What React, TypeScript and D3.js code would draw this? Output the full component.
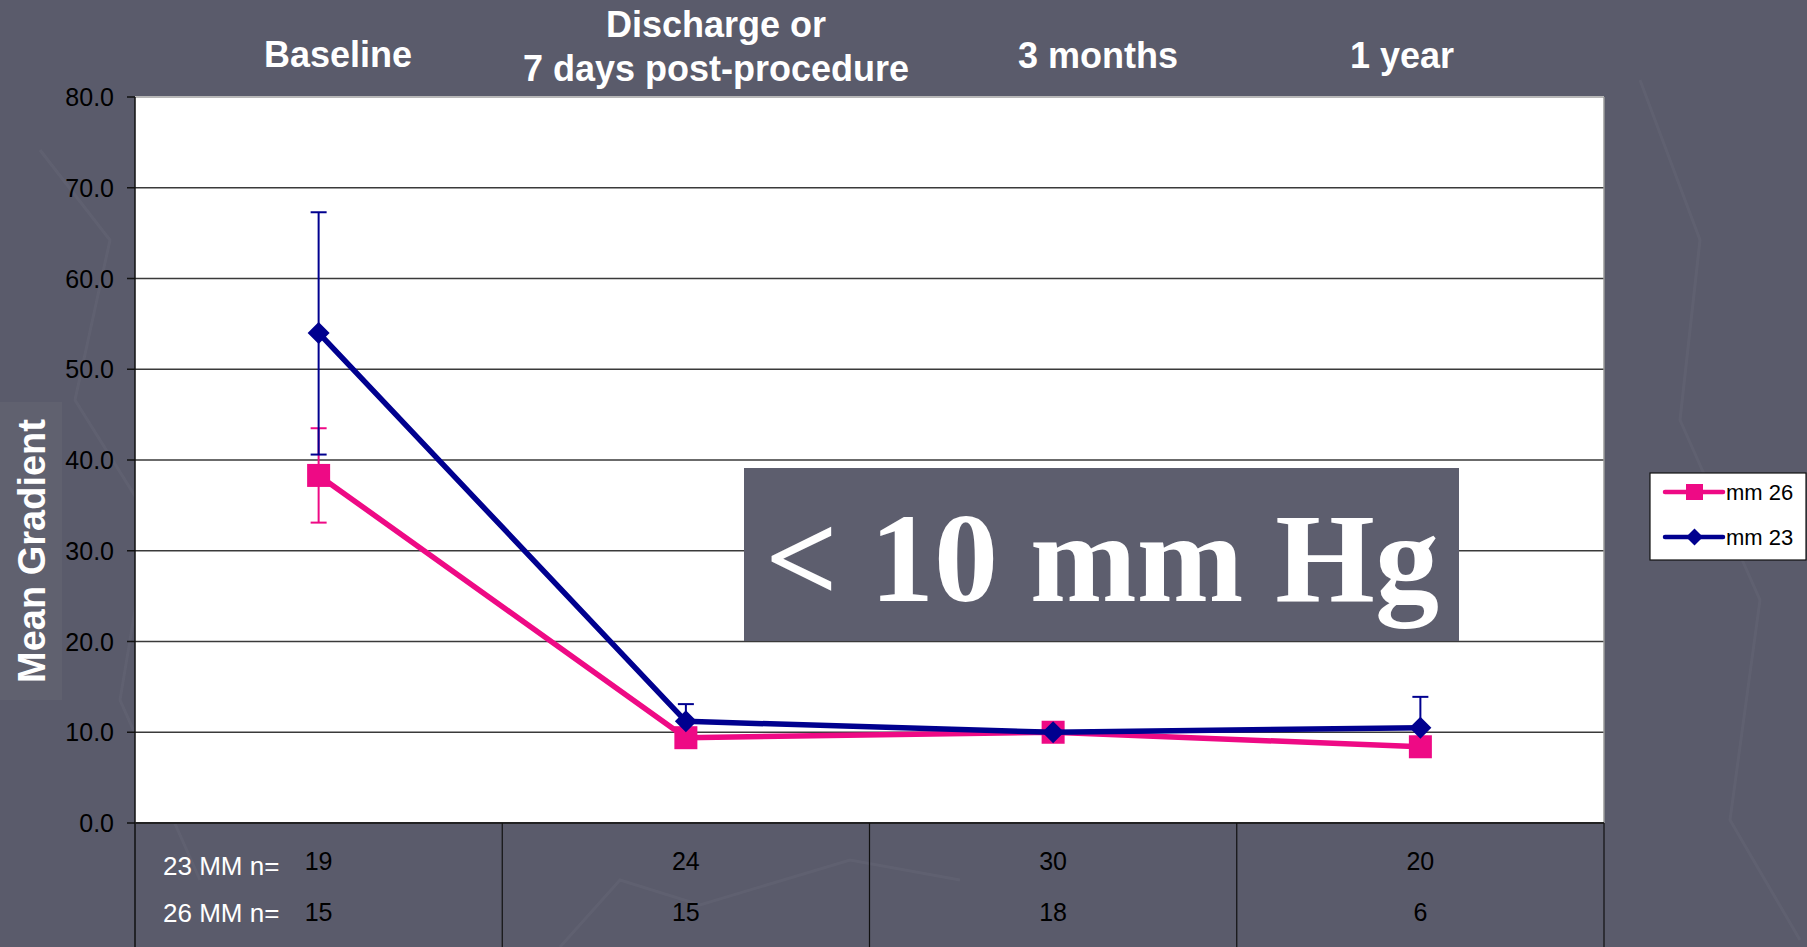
import React from "react";
import * as d3 from "d3";

// ---- data ----
const categories = ["Baseline", "Discharge", "3 months", "1 year"];
const titleLines = [["Baseline"], ["Discharge or", "7 days post-procedure"], ["3 months"], ["1 year"]];
const mm26 = [38.3, 9.4, 10.0, 8.4];
const mm23 = [54.0, 11.2, 10.0, 10.5];
const mm26High = [43.5, null, null, null];
const mm26Low = [33.1, null, null, null];
const mm23High = [67.3, 13.1, null, 13.9];
const mm23Low = [40.6, null, null, null];
const n23 = [19, 24, 30, 20];
const n26 = [15, 15, 18, 6];
const yTicks = [0, 10, 20, 30, 40, 50, 60, 70, 80];

// ---- layout ----
const W = 1807, H = 947;
const PL = 135, PR = 1604, PT = 97, PB = 823;
const BG = "#5A5B6B";
const PINK = "#EE0A85";
const BLUE = "#00008F";
const SANS = "'Liberation Sans', Arial, Helvetica, sans-serif";
const titleX = [338, 716, 1098, 1402];
const titleBaselines = [[67], [37, 81], [68], [68]];

export default function App() {
  const x = d3.scaleBand<string>().domain(categories).range([PL, PR]).padding(0);
  const cx = (i: number) => (x(categories[i]) as number) + x.bandwidth() / 2;
  const y = d3.scaleLinear().domain([0, 80]).range([PB, PT]);
  const line = d3.line<number>().x((_, i) => cx(i)).y((d) => y(d));

  const errBars = (hi: (number | null)[], lo: (number | null)[], vals: number[], color: string) =>
    vals.map((v, i) => {
      const top = hi[i] ?? v;
      const bot = lo[i] ?? v;
      if (top === v && bot === v) return null;
      return (
        <g key={i} stroke={color} strokeWidth={2}>
          <line x1={cx(i)} x2={cx(i)} y1={y(top)} y2={y(bot)} />
          {hi[i] != null && <line x1={cx(i) - 8} x2={cx(i) + 8} y1={y(top)} y2={y(top)} />}
          {lo[i] != null && <line x1={cx(i) - 8} x2={cx(i) + 8} y1={y(bot)} y2={y(bot)} />}
        </g>
      );
    });

  const diamond = (px: number, py: number, r: number) =>
    `M${px},${py - r}L${px + r},${py}L${px},${py + r}L${px - r},${py}Z`;

  return (
    <svg width={W} height={H} style={{ position: "absolute", left: 0, top: 0, background: BG }}>
      <rect x={0} y={0} width={W} height={H} fill={BG} />
      {/* faint background decoration */}
      <g stroke="#ffffff" strokeOpacity={0.035} strokeWidth={3} fill="none">
        <polyline points="40,150 110,240 75,400 150,520 120,700 200,880" />
        <polyline points="1640,80 1700,240 1680,420 1760,600 1730,820 1800,940" />
        <polyline points="560,947 620,880 700,905 850,860 960,880" />
      </g>
      {/* y-axis title box */}
      <rect x={0} y={402} width={62} height={298} fill="#60616F" />
      <text
        transform={`translate(45,${551}) rotate(-90)`}
        textAnchor="middle"
        fill="#fff"
        fontFamily={SANS}
        fontWeight="bold"
        fontSize={38}
      >
        Mean Gradient
      </text>

      {/* titles */}
      {titleLines.map((lines, i) =>
        lines.map((t, j) => (
          <text
            key={`${i}-${j}`}
            x={titleX[i]}
            y={titleBaselines[i][j]}
            textAnchor="middle"
            fill="#fff"
            fontFamily={SANS}
            fontWeight="bold"
            fontSize={36}
          >
            {t}
          </text>
        ))
      )}

      {/* plot area */}
      <rect x={PL} y={PT} width={PR - PL} height={PB - PT} fill="#fff" />
      {yTicks.slice(1).map((t) => (
        <line key={t} x1={PL} x2={PR} y1={y(t)} y2={y(t)} stroke="#3a3a3a" strokeWidth={1.3} />
      ))}
      <line x1={PL} x2={PR} y1={PT} y2={PT} stroke="#b8b8b8" strokeWidth={2} />
      <line x1={PR} x2={PR} y1={PT} y2={PB} stroke="#9a9a9a" strokeWidth={1.5} />

      {/* y axis */}
      <line x1={PL} x2={PL} y1={PT} y2={H} stroke="#111" strokeWidth={1.5} />
      {yTicks.map((t) => (
        <g key={t}>
          <line x1={PL - 8} x2={PL} y1={y(t)} y2={y(t)} stroke="#111" strokeWidth={1.5} />
          <text
            x={114}
            y={y(t)}
            textAnchor="end"
            dominantBaseline="central"
            fontFamily={SANS}
            fontSize={25}
            fill="#000"
          >
            {t.toFixed(1)}
          </text>
        </g>
      ))}
      <line x1={PL} x2={PR} y1={PB} y2={PB} stroke="#222" strokeWidth={2} />

      {/* table below */}
      {categories.map((c, i) => (
        <line
          key={c}
          x1={(x(c) as number) + x.bandwidth()}
          x2={(x(c) as number) + x.bandwidth()}
          y1={PB}
          y2={H}
          stroke="#111"
          strokeWidth={1.2}
        />
      ))}
      <text x={163} y={875} fill="#fff" fontFamily={SANS} fontSize={26}>23 MM n=</text>
      <text x={163} y={922} fill="#fff" fontFamily={SANS} fontSize={26}>26 MM n=</text>
      {n23.map((v, i) => (
        <text key={i} x={cx(i)} y={870} textAnchor="middle" fontFamily={SANS} fontSize={25} fill="#000">
          {v}
        </text>
      ))}
      {n26.map((v, i) => (
        <text key={i} x={cx(i)} y={921} textAnchor="middle" fontFamily={SANS} fontSize={25} fill="#000">
          {v}
        </text>
      ))}

      {/* mm 26 series */}
      {errBars(mm26High, mm26Low, mm26, PINK)}
      <path d={line(mm26) as string} fill="none" stroke={PINK} strokeWidth={5.5} strokeLinejoin="round" />
      {mm26.map((v, i) => (
        <rect key={i} x={cx(i) - 11.5} y={y(v) - 11.5} width={23} height={23} fill={PINK} />
      ))}

      {/* mm 23 series */}
      {errBars(mm23High, mm23Low, mm23, BLUE)}
      <path d={line(mm23) as string} fill="none" stroke={BLUE} strokeWidth={5.5} strokeLinejoin="round" />
      {mm23.map((v, i) => (
        <path key={i} d={diamond(cx(i), y(v), 11)} fill={BLUE} />
      ))}

      {/* annotation */}
      <rect x={744} y={468} width={715} height={173} fill="#5D5E6E" />
      <text
        x={1102}
        y={601}
        textAnchor="middle"
        fill="#fff"
        fontFamily="'Liberation Serif', 'Times New Roman', serif"
        fontWeight="bold"
        fontSize={128}
      >
        {"< 10 mm Hg"}
      </text>

      {/* legend */}
      <rect x={1650} y={473} width={156} height={87} fill="#fff" stroke="#111" strokeWidth={1.2} />
      <line x1={1665} x2={1723} y1={492} y2={492} stroke={PINK} strokeWidth={4.5} strokeLinecap="round" />
      <rect x={1686} y={484} width={17} height={16} fill={PINK} />
      <text x={1726} y={492} dominantBaseline="central" fontFamily={SANS} fontSize={22} fill="#000">mm 26</text>
      <line x1={1665} x2={1723} y1={537} y2={537} stroke={BLUE} strokeWidth={4.5} strokeLinecap="round" />
      <path d={diamond(1694.5, 537, 8.5)} fill={BLUE} />
      <text x={1726} y={537} dominantBaseline="central" fontFamily={SANS} fontSize={22} fill="#000">mm 23</text>
    </svg>
  );
}
